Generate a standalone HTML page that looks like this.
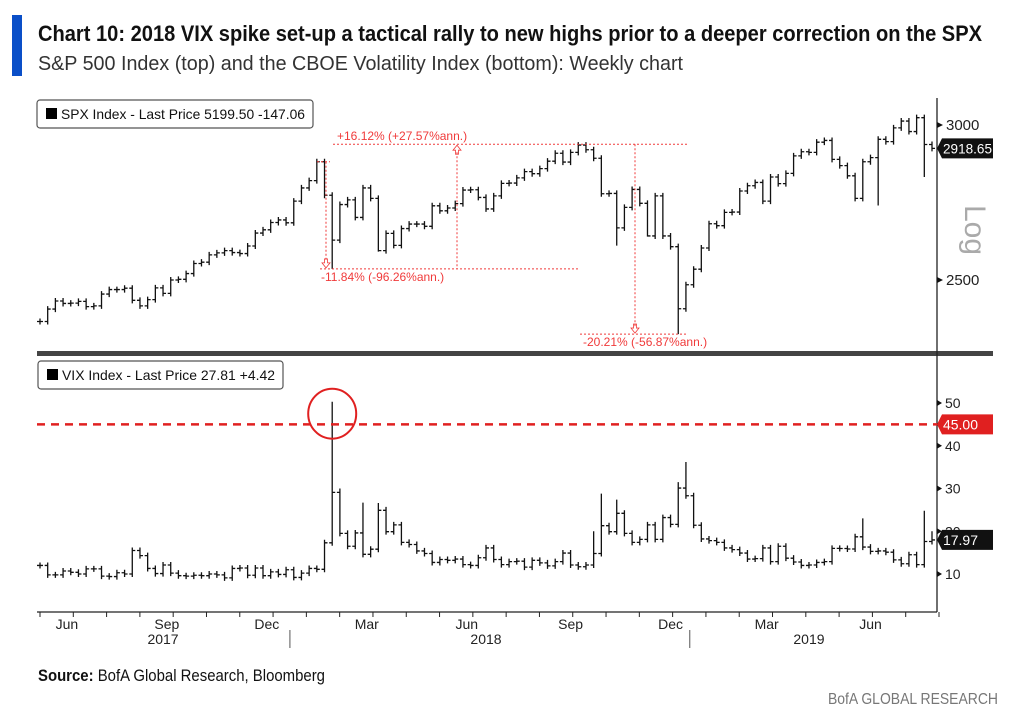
<!DOCTYPE html>
<html><head><meta charset="utf-8"><style>
body{margin:0;background:#fff;}
svg{display:block;font-family:"Liberation Sans Narrow","Liberation Sans",sans-serif;}
</style></head><body>
<svg id="c" width="1024" height="723" viewBox="0 0 1024 723">
<rect x="0" y="0" width="1024" height="723" fill="#fff"/>
<rect x="12" y="15" width="10" height="61" fill="#0a4fc8"/>
<text x="38" y="41" font-size="22" font-weight="bold" fill="#111" textLength="944" lengthAdjust="spacingAndGlyphs">Chart 10: 2018 VIX spike set-up a tactical rally to new highs prior to a deeper correction on the SPX</text>
<text x="38" y="70" font-size="20" fill="#333" textLength="645" lengthAdjust="spacingAndGlyphs">S&amp;P 500 Index (top) and the CBOE Volatility Index (bottom): Weekly chart</text>
<g id="plot"></g>
<text x="38" y="681" font-size="17" fill="#111" textLength="287" lengthAdjust="spacingAndGlyphs"><tspan font-weight="bold">Source:</tspan> BofA Global Research, Bloomberg</text>
<text x="998" y="704" font-size="16" fill="#777" text-anchor="end" textLength="170" lengthAdjust="spacingAndGlyphs">BofA GLOBAL RESEARCH</text>
</svg>
<script>
const spxClose=[2381,2416,2439,2432,2433,2438,2423,2425,2459,2472,2472,2476,2441,2425,2443,2477,2461,2500,2502,2519,2549,2553,2575,2581,2588,2582,2579,2602,2642,2652,2675,2683,2674,
2743,2786,2810,2873,2762,2620,2732,2747,2691,2786,2752,2588,2641,2604,2656,2670,2670,2663,2728,2712,2721,2735,2779,2780,2755,2718,2760,2801,2802,2819,2840,2833,2850,2875,2902,2872,2905,2930,2914,2885,2767,2768,2658,2723,2781,2736,2633,2760,2633,2600,2417,2486,
2532,2596,2671,2665,2707,2708,2776,2793,2804,2743,2822,2800,2834,2893,2907,2905,2940,2946,2881,2860,2826,2752,2873,2887,2950,2942,2990,3014,2977,3026,2932,2918.65];
const spxLowOverride={38:2533,44:2585,75:2603,79:2631,83:2346,109:2729,115:2822};
const vixClose=[12.0,9.8,9.8,10.7,10.4,10.0,11.2,11.2,9.5,9.4,10.3,10.0,15.5,14.3,11.3,10.1,12.1,10.2,9.6,9.5,9.7,9.6,10.0,9.8,9.1,11.3,11.4,9.7,11.4,9.6,10.5,9.9,11.0,
9.2,10.2,11.3,11.1,17.3,29.1,19.5,16.5,19.6,14.6,15.8,24.9,19.9,21.5,17.4,16.9,15.4,14.8,12.7,13.4,13.2,13.5,12.2,12.0,13.8,16.1,13.4,12.2,12.9,13.0,11.6,13.2,12.6,11.9,12.9,14.9,12.1,11.7,12.1,14.8,21.3,19.9,24.2,19.5,17.4,18.1,21.5,18.1,23.2,21.6,30.1,28.3,
21.4,18.2,17.8,17.4,16.1,15.7,14.9,13.5,13.6,16.1,12.9,16.5,13.7,12.8,12.0,12.1,12.7,12.9,16.0,15.96,15.85,18.7,16.3,15.3,15.4,15.1,13.3,12.4,14.5,12.2,17.6,17.97];
const vixHighOverride={38:50.3,39:30.0,42:26.7,44:26.6,45:25.7,72:20.0,73:28.8,75:27.4,84:36.2,83:31.5,107:23.0,115:24.8,116:20.0};
const spxTicks=[3000,2500];
const vixTicks=[10,20,30,40,50];
const monthLabels=["Jun","Sep","Dec","Mar","Jun","Sep","Dec","Mar","Jun"];
const monthWeeks=[3.5,16.5,29.5,42.5,55.5,69,82,94.5,108];
const yearLabels=["2017","2018","2019"];
const yearWeeks=[16,58,100];
const yearBreaks=[32.5,84.5];

const NS="http://www.w3.org/2000/svg";
const plot=document.getElementById('plot');
const X0=40,X1=932,L=37,R=937;
const xw=i=>X0+i*(X1-X0)/(spxClose.length-1);
const ySpx=v=>125+Math.log(3000/v)*850.2;
const yVix=v=>574-(v-10)*4.275;
function mk(tag,attrs,parent){const e=document.createElementNS(NS,tag);for(const k in attrs)e.setAttribute(k,attrs[k]);(parent||plot).appendChild(e);return e;}

let sep=mk('rect',{x:L,y:351,width:R-L+56,height:5,fill:'#444'});


let ax=mk('line',{x1:R,y1:98,x2:R,y2:612,stroke:'#222','stroke-width':1.3});


let bx=mk('line',{x1:L,y1:612,x2:R,y2:612,stroke:'#222','stroke-width':1.3});



function drawBars(closes,yf,lowOv,highOv,name){
  const g=mk('g',{stroke:'#111','stroke-width':1.3,fill:'none'});
  
  
  closes.forEach((c,i)=>{
    const o=i?closes[i-1]:c;const x=xw(i);
    let yh=Math.min(yf(o),yf(c))-3,yl=Math.max(yf(o),yf(c))+3;
    if(lowOv&&lowOv[i]!=null)yl=yf(lowOv[i]);
    if(highOv&&highOv[i]!=null)yh=yf(highOv[i]);
    const p=mk('path',{d:`M${x},${yh}V${yl}M${x-3},${yf(o)}H${x}M${x},${yf(c)}H${x+3}`},g);
    
    
  });
}
drawBars(spxClose,ySpx,spxLowOverride,null,'spx-series');
drawBars(vixClose,yVix,null,vixHighOverride,'vix-series');

spxTicks.forEach(t=>{
  const y=ySpx(t);
  const p=mk('path',{d:`M${R},${y-3}L${R+6},${y}L${R},${y+3}Z`,fill:'#111'});
  
  
  const tx=mk('text',{x:R+9,y:y+5,'font-size':15,fill:'#222'});tx.textContent=t;
  
  
});
vixTicks.forEach(t=>{
  const y=yVix(t);
  const p=mk('path',{d:`M${R},${y-3}L${R+5},${y}L${R},${y+3}Z`,fill:'#111'});
  
  
  const tx=mk('text',{x:R+8,y:y+5,'font-size':14,fill:'#222'});tx.textContent=t;
  
  
});
monthWeeks.forEach((w,i)=>{
  const tx=mk('text',{x:xw(w),y:629,'font-size':14,fill:'#222','text-anchor':'middle'});tx.textContent=monthLabels[i];
  
  
});
for(let w=0;w<spxClose.length;w+=4.33){
  const t=mk('line',{x1:xw(w),y1:612,x2:xw(w),y2:617,stroke:'#222'});
  
  
}
yearWeeks.forEach((w,i)=>{
  const tx=mk('text',{x:xw(w),y:644,'font-size':14,fill:'#222','text-anchor':'middle'});tx.textContent=yearLabels[i];
  
  
});
yearBreaks.forEach(w=>{
  const l=mk('line',{x1:xw(w),y1:630,x2:xw(w),y2:648,stroke:'#555'});
  
  
});

function legend(x,y,w,txt,name){
  const g=mk('g',{});
  
  
  mk('rect',{x:x,y:y,width:w,height:28,rx:3,fill:'#fff',stroke:'#555','stroke-width':1.2},g);
  mk('rect',{x:x+9,y:y+8,width:11,height:11,fill:'#000'},g);
  const t=mk('text',{x:x+24,y:y+19,'font-size':14,fill:'#111',textLength:w-32,lengthAdjust:'spacingAndGlyphs'},g);t.textContent=txt;
}
legend(37,100,276,'SPX Index - Last Price 5199.50  -147.06','spx-legend');
legend(38,361,245,'VIX Index - Last Price 27.81  +4.42','vix-legend');

function tag(y,txt,bg,name){
  const g=mk('g',{});
  
  
  mk('path',{d:`M${R},${y}L${R+5},${y-10}H${R+56}V${y+10}H${R+5}Z`,fill:bg},g);
  const t=mk('text',{x:R+6,y:y+5,'font-size':14,fill:'#fff',textLength:txt.length*7,lengthAdjust:'spacingAndGlyphs'},g);t.textContent=txt;
}
tag(ySpx(2918.65),'2918.65','#111','spx-last-price-tag');
tag(yVix(45),'45.00','#e02020','vix-threshold-tag');
tag(yVix(17.97),'17.97','#111','vix-last-price-tag');
let lg=mk('text',{x:0,y:0,'font-size':30,fill:'#aaa',transform:'translate(965,205) rotate(90)'});lg.textContent='Log';



let th=mk('line',{x1:L,y1:yVix(45),x2:R,y2:yVix(45),stroke:'#e02020','stroke-width':2.5,'stroke-dasharray':'8,6'});


let ci=mk('ellipse',{cx:xw(38),cy:yVix(47.5),rx:24,ry:25,fill:'none',stroke:'#e02020','stroke-width':2});



const red='#f03a3a';
function dl(x1,y1,x2,y2,name){const l=mk('line',{x1,y1,x2,y2,stroke:red,'stroke-width':1,'stroke-dasharray':'2,2'});}
function at(x,y,txt,name){const t=mk('text',{x,y,'font-size':12,fill:red});t.textContent=txt;}
function arrow(x,y,up,name){const d=up?`M${x},${y}l-4,5h2.5v4h3v-4h2.5Z`:`M${x},${y}l-4,-5h2.5v-4h3v4h2.5Z`;const p=mk('path',{d,fill:'none',stroke:red,'stroke-width':0.8});}
const yTop=ySpx(2933),yPk=ySpx(2873),yLow1=ySpx(2533),yLow2=ySpx(2346);
dl(317,yPk,330,yPk,'peak-marker-line');
dl(333,yTop,688,yTop,'rally-high-line');
dl(320,yLow1,580,yLow1,'correction-low-line');
dl(580,yLow2,688,yLow2,'dec-low-line');
dl(326,yPk,326,yLow1-8,'correction-arrow-line');arrow(326,yLow1-1,false,'correction-arrow');
dl(457,yTop+8,457,yLow1,'rally-arrow-line');arrow(457,yTop+1,true,'rally-arrow');
dl(635,yTop,635,yLow2-8,'deep-correction-arrow-line');arrow(635,yLow2-1,false,'deep-correction-arrow');
at(337,yTop-4,'+16.12% (+27.57%ann.)','rally-annotation');
at(321,yLow1+12,'-11.84% (-96.26%ann.)','correction-annotation');
at(583,yLow2+12,'-20.21% (-56.87%ann.)','deep-correction-annotation');
</script>
</body></html>
